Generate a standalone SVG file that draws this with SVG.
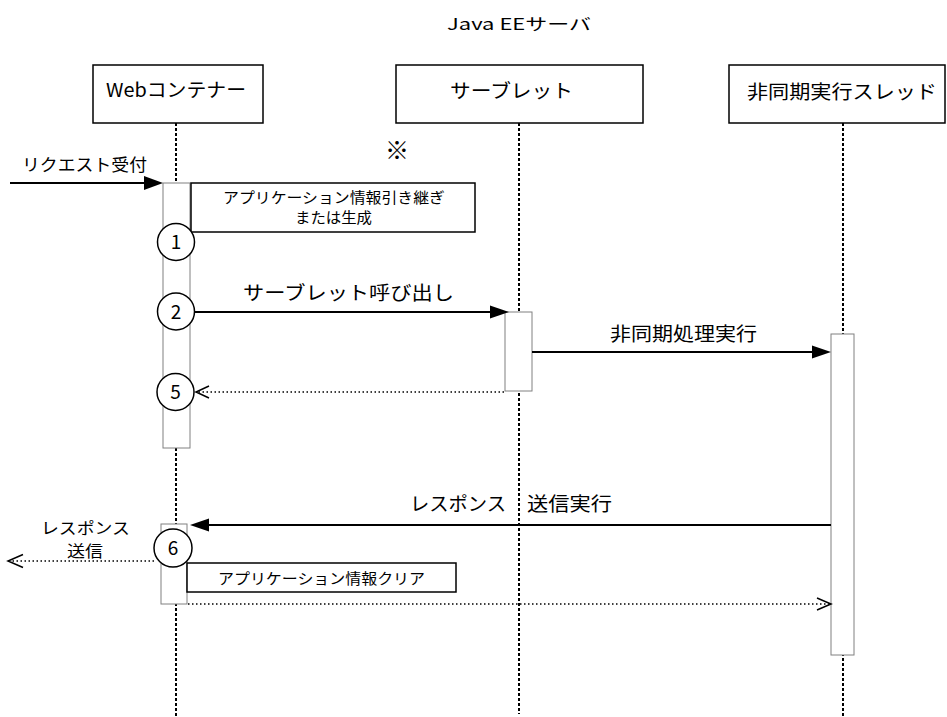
<svg xmlns="http://www.w3.org/2000/svg" width="947" height="717" viewBox="0 0 947 717">
<defs>
<style>
text{font-family:"Noto Sans CJK JP","Liberation Sans",sans-serif;fill:#000}
.hdr{font-size:19px}
.msg{font-size:19px}
.lbl{font-size:17px}
.note{font-size:15px}
.num{font-size:19px;text-anchor:middle}
.box{fill:#fff;stroke:#000;stroke-width:1.5}
.act{fill:#fff;stroke:#808080;stroke-width:1}
.life{stroke:#000;stroke-width:2;stroke-dasharray:3 2;fill:none}
.solid{stroke:#000;stroke-width:2;fill:none}
.dot{stroke:#000;stroke-width:1.5;stroke-dasharray:1.5 2.5;fill:none}
.head{fill:#000;stroke:none}
.open{fill:none;stroke:#000;stroke-width:1.5}
.circ{fill:#fff;stroke:#000;stroke-width:1.5}
</style>
</defs>
<rect width="947" height="717" fill="#fff"/>
<text x="447" y="30" font-size="16" textLength="144" lengthAdjust="spacingAndGlyphs">Java EEサーバ</text>

<g id="lifelines">
<line class="life" x1="176" y1="123" x2="176" y2="716"/>
<line class="life" x1="519" y1="123" x2="519" y2="714"/>
<line class="life" x1="843" y1="123" x2="843" y2="717"/>
</g>

<g id="node-web">
<rect class="box" x="93" y="65" width="170" height="58"/>
<text class="hdr" x="106" y="97" textLength="140" lengthAdjust="spacingAndGlyphs">Webコンテナー</text>
</g>
<g id="node-servlet">
<rect class="box" x="396" y="65" width="247" height="58"/>
<text class="hdr" x="450" y="98" textLength="123" lengthAdjust="spacingAndGlyphs">サーブレット</text>
</g>
<g id="node-thread">
<rect class="box" x="729" y="65" width="216" height="58"/>
<text class="hdr" x="747" y="99" textLength="190" lengthAdjust="spacingAndGlyphs">非同期実行スレッド</text>
</g>

<g id="activations">
<rect class="act" x="163" y="183" width="27" height="265"/>
<rect class="act" x="505" y="312" width="27" height="79"/>
<rect class="act" x="831" y="334" width="23" height="321"/>
<rect class="act" x="161" y="524" width="26" height="80"/>
</g>

<g id="note-1">
<rect class="box" x="191" y="183" width="284" height="49"/>
<text class="note" x="223" y="203" textLength="222" lengthAdjust="spacingAndGlyphs">アプリケーション情報引き継ぎ</text>
<text class="note" x="295" y="223" textLength="77" lengthAdjust="spacingAndGlyphs">または生成</text>
</g>
<text id="note-mark" x="397" y="159" font-size="24" text-anchor="middle">※</text>

<g id="note-2">
<rect class="box" x="187" y="563" width="269" height="29"/>
<text class="note" x="218" y="584" textLength="207" lengthAdjust="spacingAndGlyphs">アプリケーション情報クリア</text>
</g>

<g id="connectors">
<line class="solid" x1="10" y1="183" x2="145" y2="183"/>
<polygon class="head" points="163,183 144,176 144,190"/>
<text class="lbl" x="22" y="171" textLength="125" lengthAdjust="spacingAndGlyphs">リクエスト受付</text>

<line class="solid" x1="194" y1="312" x2="492" y2="312"/>
<polygon class="head" points="509,312 490,305.5 490,318.5"/>
<text class="msg" x="243" y="300" textLength="211" lengthAdjust="spacingAndGlyphs">サーブレット呼び出し</text>

<line class="dot" x1="504" y1="392" x2="198" y2="392"/>
<polyline class="open" points="209,386 196,392 209,398"/>

<line class="solid" x1="532" y1="352" x2="814" y2="352"/>
<polygon class="head" points="831,352 812,345.5 812,358.5"/>
<text class="msg" x="610" y="341" textLength="147" lengthAdjust="spacingAndGlyphs">非同期処理実行</text>

<line class="solid" x1="831" y1="525" x2="207" y2="525"/>
<polygon class="head" points="190,525 209,518.5 209,531.5"/>
<text class="msg" x="410" y="511" textLength="96" lengthAdjust="spacingAndGlyphs">レスポンス</text>
<text class="msg" x="527" y="511" textLength="85" lengthAdjust="spacingAndGlyphs">送信実行</text>

<line class="dot" x1="154" y1="561" x2="10" y2="561"/>
<polyline class="open" points="23,554.5 8,561 23,567.5"/>
<text x="41" y="534" font-size="16" textLength="89" lengthAdjust="spacingAndGlyphs">レスポンス</text>
<text x="67" y="557" font-size="16" textLength="36" lengthAdjust="spacingAndGlyphs">送信</text>

<line class="dot" x1="188" y1="604" x2="829" y2="604"/>
<polyline class="open" points="817,598 831,604 817,610"/>
</g>

<g id="steps">
<g id="step-1"><circle class="circ" cx="176" cy="242" r="18.5"/><text class="num" x="176" y="249">1</text></g>
<g id="step-2"><circle class="circ" cx="176" cy="311.5" r="18.5"/><text class="num" x="176" y="318.5">2</text></g>
<g id="step-5"><circle class="circ" cx="175.5" cy="392" r="18.5"/><text class="num" x="175.5" y="399">5</text></g>
<g id="step-6"><circle class="circ" cx="173" cy="548" r="19"/><text class="num" x="173" y="555">6</text></g>
</g>
</svg>
